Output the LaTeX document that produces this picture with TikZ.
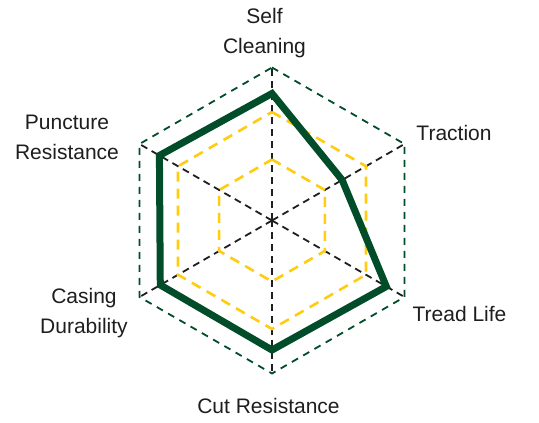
\documentclass[tikz,border=0pt]{standalone}
\usepackage{fontspec}
\setmainfont{Liberation Sans}
\definecolor{dkgreen}{HTML}{014D2A}
\definecolor{gold}{HTML}{FFCC10}
\definecolor{txt}{HTML}{1E1E1E}
\tikzset{
  axisline/.style={draw=black!88, line width=1.8pt, dash pattern=on 7pt off 5pt},
  ringouter/.style={draw=dkgreen, line width=1.8pt, dash pattern=on 7pt off 6pt},
  ringinner/.style={draw=gold, line width=2.6pt, dash pattern=on 10pt off 7pt},
  datapoly/.style={draw=dkgreen, line width=7pt, line join=miter},
  lbl/.style={font=\fontsize{21}{30}\selectfont, text=txt, inner sep=0pt, align=center}
}
\begin{document}
\begin{tikzpicture}[x=1pt,y=1pt]
\useasboundingbox (0,0) rectangle (539,423);
\fill[white] (0,0) rectangle (539,423);
\begin{scope}[shift={(272,202.5)}]
  \coordinate (C) at (0,0);
  \foreach \n/\a in {1/90,2/30,3/-30,4/-90,5/-150,6/150}{
    \coordinate (O\n) at (\a:153);
    \coordinate (Y\n) at (\a:108.5);
    \coordinate (I\n) at (\a:61);
  }
  \coordinate (D1) at (90:127);
  \coordinate (D2) at (30:81);
  \coordinate (D3) at (-30:132);
  \coordinate (D4) at (-90:129.5);
  \coordinate (D5) at (-150:129);
  \coordinate (D6) at (150:130);
  \path[ringouter] (O1) -- (O2) -- (O3) -- (O4) -- (O5) -- (O6) -- cycle;
  \foreach \n in {1,...,6}{ \path[axisline] (C) -- (O\n); }
  \path[ringinner] (Y1) -- (Y2) -- (Y3) -- (Y4) -- (Y5) -- (Y6) -- cycle;
  \path[ringinner] (I1) -- (I2) -- (I3) -- (I4) -- (I5) -- (I6) -- cycle;
  \path[datapoly] (D1) -- (D2) -- (D3) -- (D4) -- (D5) -- (D6) -- cycle;
\end{scope}
\node[lbl, anchor=center] (selfc) at (264.5,389.7) {Self\\Cleaning};
\node[lbl, anchor=base] (trac) at (454,282.3) {Traction};
\node[lbl, anchor=base] (tread) at (459.5,101.3) {Tread Life};
\node[lbl, anchor=base] (cut) at (268.5,9) {Cut Resistance};
\node[lbl, anchor=center] (casing) at (84,110.4) {Casing\\Durability};
\node[lbl, anchor=center] (punct) at (67,286) {Puncture\\Resistance};
\end{tikzpicture}
\end{document}
